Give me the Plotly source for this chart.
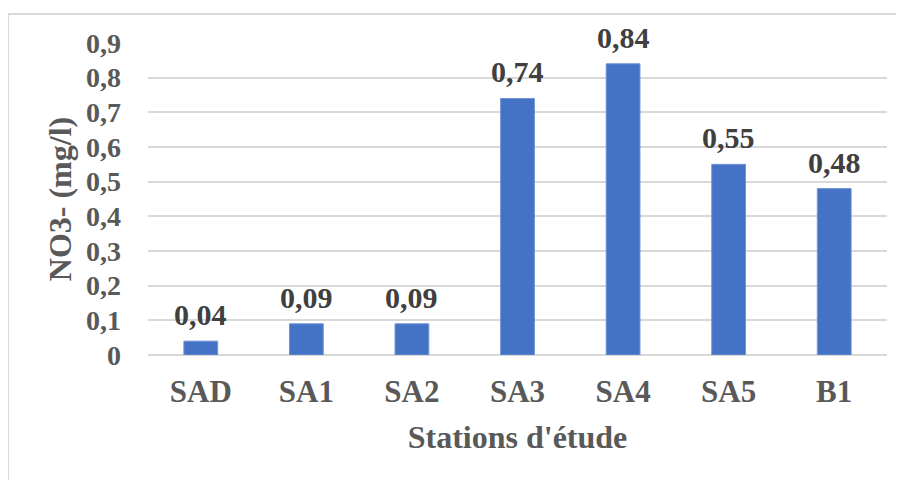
import plotly.graph_objs as go

# ===== data =====
stations = ["SAD", "SA1", "SA2", "SA3", "SA4", "SA5", "B1"]
no3 = [0.04, 0.09, 0.09, 0.74, 0.84, 0.55, 0.48]

y_title = "NO3- (mg/l)"
x_title = "Stations d'étude"

FONT = "Liberation Serif"
GRID = "#d9d9d9"
TXT = "#595959"

# page body has an 8px margin, so the figure is 8px smaller each way
W, H = 896, 472
L, R, T, B = 140, 17, 35, 125
pw, ph = W - L - R, H - T - B

fig = go.Figure(go.Bar(
    x=stations,
    y=no3,
    marker=dict(color="#4472c4", line=dict(color="#6f94d6", width=1)),
    cliponaxis=False,
))

# value labels above the bars
for s, v in zip(stations, no3):
    fig.add_annotation(
        x=s, y=v, text=f"{v:.2f}".replace(".", ","),
        showarrow=False, yanchor="bottom", yshift=8,
        font=dict(family=FONT, size=30, color="#404040", weight="bold"),
    )

# outer chart border (goes off the right / bottom edge)
fig.add_shape(type="rect", xref="paper", yref="paper",
              x0=(0 - L) / pw, x1=(W + 10 - L) / pw,
              y0=-(H + 10 - T - ph) / ph, y1=(T + ph - 6) / ph,
              line=dict(color=GRID, width=2), fillcolor="rgba(0,0,0,0)", layer="below")

fig.update_layout(
    width=W, height=H,
    margin=dict(l=L, r=R, t=T, b=B, autoexpand=False),
    paper_bgcolor="white", plot_bgcolor="white",
    separators=", ",
    bargap=0.68,
    showlegend=False,
    xaxis=dict(
        automargin=False,
        showgrid=False, showline=False, ticks="",
        tickfont=dict(family=FONT, size=31, color=TXT, weight="bold"),
        ticklabelstandoff=15,
        title=dict(text=x_title, standoff=17,
                   font=dict(family=FONT, size=32, color=TXT, weight="bold")),
    ),
    yaxis=dict(
        automargin=False,
        range=[0, 0.9], dtick=0.1, tick0=0,
        showgrid=True, gridcolor=GRID, gridwidth=1.5,
        zeroline=True, zerolinecolor=GRID, zerolinewidth=1.5,
        showline=False, ticks="",
        tickfont=dict(family=FONT, size=28, color=TXT, weight="bold"),
        ticklabelstandoff=26,
        title=dict(text=y_title, standoff=4,
                   font=dict(family=FONT, size=32, color=TXT, weight="bold")),
    ),
)

fig.write_html("out.html")
